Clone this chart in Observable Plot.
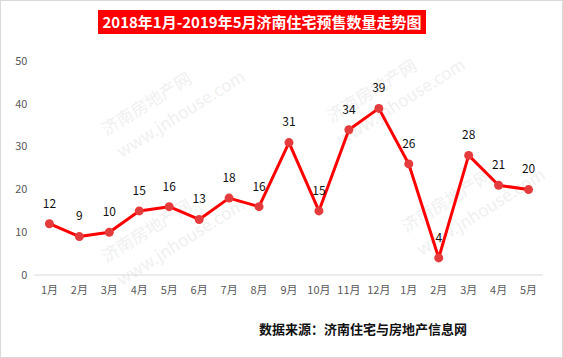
<!DOCTYPE html>
<html>
<head>
<meta charset="utf-8">
<script src="https://cdn.jsdelivr.net/npm/d3@7"></script>
<script src="https://cdn.jsdelivr.net/npm/@observablehq/plot@0.6"></script>
<style>
  html, body { margin: 0; padding: 0; background: #fff; }
  #wrap { position: relative; width: 563px; height: 358px; overflow: hidden; box-sizing: border-box; border: 1px solid #d9d9d9; font-family: "Noto Sans CJK SC", sans-serif; }
  #title { position: absolute; left: 97px; top: 9px; width: 328px; height: 24px; background: #ff0000; color: #fff; font-weight: bold; font-size: 15px; line-height: 24px; text-align: center; white-space: nowrap; overflow: hidden; z-index: 2; }
  #caption { position: absolute; left: 258px; top: 318px; font-size: 13px; font-weight: bold; color: #111; white-space: nowrap; z-index: 2; }
  #chart { position: absolute; left: -1px; top: -1px; z-index: 1; }
  .wm { position: absolute; color: #f0f0f0; font-size: 17px; white-space: nowrap; transform: rotate(-32deg); transform-origin: left top; z-index: 0; }
</style>
</head>
<body>
<div id="wrap">
  <div id="title">2018年1月-2019年5月济南住宅预售数量走势图</div>
  <div class="wm" style="left:95px;top:118px;">济南房地产网</div>
  <div class="wm" style="left:110px;top:140px;">www.jnhouse.com</div>
  <div class="wm" style="left:320px;top:105px;">济南房地产网</div>
  <div class="wm" style="left:330px;top:128px;">www.jnhouse.com</div>
  <div class="wm" style="left:95px;top:245px;">济南房地产网</div>
  <div class="wm" style="left:110px;top:268px;">www.jnhouse.com</div>
  <div class="wm" style="left:395px;top:215px;">济南房地产网</div>
  <div class="wm" style="left:410px;top:238px;">www.jnhouse.com</div>
  <div id="chart"></div>
  <div id="caption">数据来源：济南住宅与房地产信息网</div>
</div>
<script>
const monthLabels = ["1月","2月","3月","4月","5月","6月","7月","8月","9月","10月","11月","12月","1月","2月","3月","4月","5月"];
const presale = [12, 9, 10, 15, 16, 13, 18, 16, 31, 15, 34, 39, 26, 4, 28, 21, 20];
const yTicks = [0, 10, 20, 30, 40, 50];

const data = presale.map((v, i) => ({ i, v, label: monthLabels[i] }));

const chart = Plot.plot({
  width: 563,
  height: 358,
  marginTop: 61,
  marginBottom: 83,
  marginLeft: 34,
  marginRight: 19,
  style: { fontFamily: "'Noto Sans CJK SC', sans-serif", background: "transparent", overflow: "visible" },
  x: { type: "point", domain: d3.range(presale.length), padding: 0.5, label: null },
  y: { domain: [0, 50], label: null },
  marks: [
    Plot.ruleY([0], { stroke: "#d9d9d9", strokeWidth: 1 }),
    Plot.axisY({ ticks: yTicks, tickSize: 0, tickPadding: 7, fontSize: 11, fill: "#595959", label: null }),
    Plot.axisX({ tickSize: 0, tickPadding: 11, fontSize: 11, fill: "#595959", tickFormat: i => monthLabels[i], label: null }),
    Plot.line(data, { x: "i", y: "v", stroke: "#ff0000", strokeWidth: 3, strokeLinejoin: "round" }),
    Plot.dot(data, { x: "i", y: "v", r: 4.5, fill: "#e43c3c", stroke: "none" }),
    Plot.text(data, { x: "i", y: "v", text: d => String(d.v), dy: -20, fontSize: 12, fill: "#111" })
  ]
});
document.getElementById("chart").appendChild(chart);
</script>
</body>
</html>
